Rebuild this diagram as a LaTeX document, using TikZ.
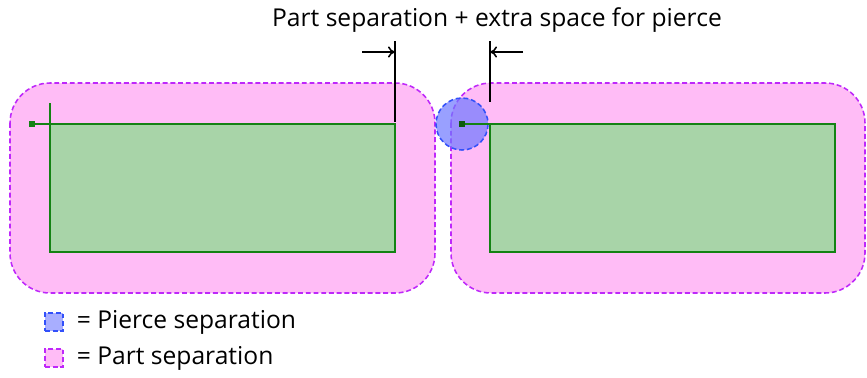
\documentclass[tikz,border=0pt]{standalone}
\usepackage{fontspec}
\setmainfont{Open Sans}
\usetikzlibrary{arrows.meta,positioning}
\definecolor{partfill}{RGB}{255,188,246}
\definecolor{partline}{RGB}{190,40,250}
\definecolor{piercefill}{RGB}{110,120,255}
\definecolor{pierceline}{RGB}{50,80,250}
\definecolor{shapefill}{RGB}{168,212,168}
\definecolor{shapeline}{RGB}{20,130,20}
\tikzset{
  partsep/.style={fill=partfill,draw=partline,dash pattern=on 3.5pt off 2pt,line width=1.1pt,rounded corners=1cm},
  piercesep/.style={fill=piercefill,fill opacity=0.7,draw=pierceline,draw opacity=1,dash pattern=on 3.5pt off 2pt,line width=1.1pt},
  partshape/.style={fill=shapefill,draw=shapeline,line width=1.3pt},
  leadin/.style={draw=shapeline,line width=1.3pt},
  dimline/.style={draw=black,line width=1.1pt},
  dimarrow/.style={dimline,-{To[length=5pt,width=8pt]}},
  label/.style={font=\fontsize{17.5}{20}\selectfont,inner sep=0pt}
}
\begin{document}
\begin{tikzpicture}[x=0.025cm,y=-0.025cm]
\useasboundingbox (0,0) rectangle (867,377);
%part separation zones
\path [partsep] (10,83) rectangle (435,293);
\path [partsep] (451,83) rectangle (865,293);
%the parts
\path [partshape] (50,124) rectangle (395,252);
\path [partshape] (490,124) rectangle (835,252);
%pierce zone on the right part
\path [piercesep] (462,124) circle (26);
%lead-ins
\draw [leadin] (50,103) -- (50,124);
\node [fill=shapeline,minimum size=4pt,inner sep=0pt] (pA) at (32,124) {};
\draw [leadin] (pA) -- (50,124);
\node [fill=shapeline!70!black,minimum size=4pt,inner sep=0pt] (pB) at (462,124) {};
\draw [leadin] (pB) -- (490,124);
%dimension
\coordinate (dL) at (395,41);
\coordinate (dLb) at (395,122);
\coordinate (dR) at (490,41);
\coordinate (dRb) at (490,102);
\draw [dimline] (dL) -- (dLb);
\draw [dimline] (dR) -- (dRb);
\coordinate (aL) at (362,52);
\coordinate (aR) at (523,52);
\draw [dimarrow] (aL) -- (dL |- aL);
\draw [dimarrow] (aR) -- (dR |- aR);
\node [label] (dimtext) at (497,20) {Part separation + extra space for pierce};
%legend
\node [piercesep,minimum size=13pt,inner sep=0pt,fill opacity=0.6] (keyA) at (54,322) {};
\node [label,anchor=west,right=9pt of keyA] (keyAtext) {= Pierce separation};
\node [partsep,rounded corners=0pt,minimum size=13pt,inner sep=0pt] (keyB) at (54,358) {};
\node [label,anchor=west,right=9pt of keyB] (keyBtext) {= Part separation};
\end{tikzpicture}
\end{document}
